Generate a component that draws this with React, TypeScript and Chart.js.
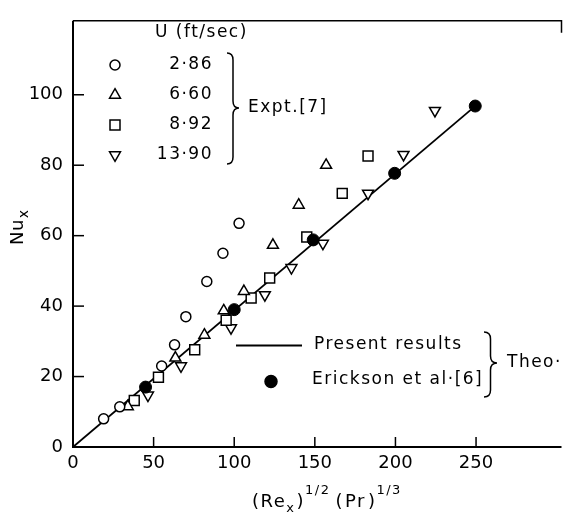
import React, { useEffect, useRef } from 'react';
import { Chart, registerables } from 'chart.js';

Chart.register(...registerables);

// ---- data ----
const xTicks = [0, 50, 100, 150, 200, 250];
const yTicks = [0, 20, 40, 60, 80, 100];
const xMax = 303;
const yMax = 121;

const presentX = [0, 250];
const presentY = [0, 97];

const ericksonX = [45, 100, 149, 199.5, 249.5];
const ericksonY = [17, 39, 58.8, 77.7, 96.8];

const u286X = [19, 29, 55, 63, 70, 83, 93, 103];
const u286Y = [8, 11.4, 23, 29, 37, 47, 55, 63.5];

const u660X = [34, 63.5, 81.5, 93.5, 106, 124, 140, 157];
const u660Y = [11.5, 25.3, 31.8, 38.7, 44.2, 57.3, 68.7, 80];

const u892X = [38, 53, 75.5, 95, 110.5, 122, 145, 167, 183];
const u892Y = [13.2, 19.8, 27.6, 36, 42.3, 48, 59.6, 72, 82.6];

const u1390X = [46.5, 67, 98, 119, 135.5, 155, 183, 205, 224.5];
const u1390Y = [14.7, 23, 33.8, 43.2, 50.9, 57.8, 72, 83, 95.5];

const speedLabels = ['2·86', '6·60', '8·92', '13·90'];
const speedHeader = 'U (ft/sec)';
const exptLabel = 'Expt.[7]';
const presentLabel = 'Present results';
const ericksonLabel = 'Erickson et al·[6]';
const theoLabel = 'Theo·';

const FAMILY = '"DejaVu Sans", sans-serif';

const pts = (xs: number[], ys: number[]) => xs.map((x, i) => ({ x, y: ys[i] }));

function drawMarker(ctx: CanvasRenderingContext2D, style: string, x: number, y: number) {
  ctx.save();
  ctx.lineWidth = 1.5;
  ctx.strokeStyle = '#000';
  ctx.fillStyle = '#fff';
  ctx.beginPath();
  if (style === 'circle') {
    ctx.arc(x, y, 5, 0, Math.PI * 2);
  } else if (style === 'filled') {
    ctx.fillStyle = '#000';
    ctx.arc(x, y, 6, 0, Math.PI * 2);
  } else if (style === 'tri') {
    const r = 6.3;
    ctx.moveTo(x, y - r);
    ctx.lineTo(x + r * 0.866, y + r / 2);
    ctx.lineTo(x - r * 0.866, y + r / 2);
    ctx.closePath();
  } else if (style === 'tridown') {
    const r = 6.3;
    ctx.moveTo(x, y + r);
    ctx.lineTo(x + r * 0.866, y - r / 2);
    ctx.lineTo(x - r * 0.866, y - r / 2);
    ctx.closePath();
  } else if (style === 'rect') {
    ctx.rect(x - 5, y - 5, 10, 10);
  }
  ctx.fill();
  ctx.stroke();
  ctx.restore();
}

function brace(ctx: CanvasRenderingContext2D, x: number, y1: number, y2: number, tipX: number, midY: number) {
  const bx = x + (tipX - x) * 0.5;
  ctx.beginPath();
  ctx.moveTo(x, y1);
  ctx.quadraticCurveTo(bx, y1, bx, y1 + 7);
  ctx.lineTo(bx, midY - 7);
  ctx.quadraticCurveTo(bx, midY, tipX, midY);
  ctx.quadraticCurveTo(bx, midY, bx, midY + 7);
  ctx.lineTo(bx, y2 - 7);
  ctx.quadraticCurveTo(bx, y2, x, y2);
  ctx.stroke();
}

const decor = {
  id: 'decor',
  afterDraw(chart: any) {
    const ctx: CanvasRenderingContext2D = chart.ctx;
    const { left, right, top, bottom } = chart.chartArea;
    const xs = chart.scales.x;
    const ys = chart.scales.y;
    ctx.save();
    ctx.strokeStyle = '#000';
    ctx.fillStyle = '#000';
    // frame
    ctx.lineWidth = 2;
    ctx.beginPath();
    ctx.moveTo(left, top);
    ctx.lineTo(left, bottom);
    ctx.lineTo(right, bottom);
    ctx.stroke();
    ctx.lineWidth = 1.5;
    ctx.beginPath();
    ctx.moveTo(left, top);
    ctx.lineTo(right, top);
    ctx.lineTo(right, top + 12);
    ctx.stroke();
    // inward ticks
    ctx.lineWidth = 1.5;
    xTicks.slice(1).forEach((v) => {
      const px = xs.getPixelForValue(v);
      ctx.beginPath();
      ctx.moveTo(px, bottom);
      ctx.lineTo(px, bottom - 10);
      ctx.stroke();
    });
    yTicks.slice(1).forEach((v) => {
      const py = ys.getPixelForValue(v);
      ctx.beginPath();
      ctx.moveTo(left, py);
      ctx.lineTo(left + 11, py);
      ctx.stroke();
    });

    // legend text
    ctx.font = `17px ${FAMILY}`;
    (ctx as any).letterSpacing = '1.5px';
    ctx.textBaseline = 'middle';
    ctx.textAlign = 'left';
    ctx.fillText(speedHeader, 155, 33);
    const styles = ['circle', 'tri', 'rect', 'tridown'];
    const rows = [65, 95, 125, 155];
    rows.forEach((ry, i) => {
      drawMarker(ctx, styles[i], 115, ry);
      ctx.textAlign = 'right';
      ctx.fillText(speedLabels[i], 213, ry);
    });
    ctx.textAlign = 'left';
    ctx.lineWidth = 1.5;
    brace(ctx, 227, 53, 164, 239, 108);
    ctx.fillText(exptLabel, 248, 108);

    // theory legend
    ctx.lineWidth = 1.8;
    ctx.beginPath();
    ctx.moveTo(236, 345.5);
    ctx.lineTo(302, 345.5);
    ctx.stroke();
    ctx.fillText(presentLabel, 314, 345);
    drawMarker(ctx, 'filled', 271, 381.5);
    ctx.fillText(ericksonLabel, 312, 380);
    ctx.lineWidth = 1.5;
    brace(ctx, 484, 332, 397, 497, 363);
    ctx.fillText(theoLabel, 507, 363);

    // axis titles
    ctx.textBaseline = 'alphabetic';
    (ctx as any).letterSpacing = '1.5px';
    let cx = 252;
    const big = `18px ${FAMILY}`;
    const small = `13px ${FAMILY}`;
    const seg = (t: string, font: string, base: number) => {
      ctx.font = font;
      ctx.fillText(t, cx, base);
      cx += ctx.measureText(t).width;
    };
    seg('(Re', big, 507);
    seg('x', `13px ${FAMILY}`, 512);
    cx += 1;
    seg(')', big, 507);
    seg('1/2', small, 494);
    cx += 5;
    seg('(', big, 507);
    cx += 1;
    seg('Pr', big, 507);
    cx += 2;
    seg(')', big, 507);
    seg('1/3', small, 494);

    // y title
    ctx.save();
    ctx.translate(23, 245);
    ctx.rotate(-Math.PI / 2);
    ctx.font = big;
    (ctx as any).letterSpacing = '0.5px';
    ctx.fillText('Nu', 0, 0);
    const w = ctx.measureText('Nu').width;
    ctx.font = `14px ${FAMILY}`;
    ctx.fillText('x', w + 1, 5);
    ctx.restore();

    ctx.restore();
  },
};

export default function App() {
  const ref = useRef<HTMLCanvasElement | null>(null);
  useEffect(() => {
    if (!ref.current) return;
    const chart = new Chart(ref.current, {
      type: 'scatter',
      data: {
        datasets: [
          {
            type: 'line',
            label: presentLabel,
            data: pts(presentX, presentY),
            borderColor: '#000',
            borderWidth: 1.8,
            pointRadius: 0,
            fill: false,
            order: 5,
          } as any,
          {
            label: ericksonLabel,
            data: pts(ericksonX, ericksonY),
            pointStyle: 'circle',
            pointRadius: 6,
            backgroundColor: '#000',
            borderColor: '#000',
            borderWidth: 1,
            order: 0,
          },
          {
            label: speedLabels[0],
            data: pts(u286X, u286Y),
            pointStyle: 'circle',
            pointRadius: 5,
            backgroundColor: '#fff',
            borderColor: '#000',
            borderWidth: 1.5,
            order: 1,
          },
          {
            label: speedLabels[1],
            data: pts(u660X, u660Y),
            pointStyle: 'triangle',
            pointRadius: 6.3,
            backgroundColor: '#fff',
            borderColor: '#000',
            borderWidth: 1.5,
            order: 1,
          },
          {
            label: speedLabels[2],
            data: pts(u892X, u892Y),
            pointStyle: 'rect',
            pointRadius: 7,
            backgroundColor: '#fff',
            borderColor: '#000',
            borderWidth: 1.5,
            order: 1,
          },
          {
            label: speedLabels[3],
            data: pts(u1390X, u1390Y),
            pointStyle: 'triangle',
            rotation: 180,
            pointRadius: 6.3,
            backgroundColor: '#fff',
            borderColor: '#000',
            borderWidth: 1.5,
            order: 1,
          },
        ],
      },
      options: {
        animation: false,
        responsive: false,
        devicePixelRatio: 1,
        layout: { padding: { top: 4, right: 1, left: 0, bottom: 0 } },
        plugins: { legend: { display: false }, tooltip: { enabled: false } },
        scales: {
          x: {
            type: 'linear',
            min: 0,
            max: xMax,
            grid: { display: false, drawTicks: false },
            border: { display: false },
            afterBuildTicks: (s: any) => {
              s.ticks = xTicks.map((v) => ({ value: v }));
            },
            afterFit: (s: any) => {
              s.height = 68;
            },
            ticks: {
              padding: 6,
              color: '#000',
              font: { size: 18, family: FAMILY },
              maxRotation: 0,
              autoSkip: false,
            },
          },
          y: {
            type: 'linear',
            min: 0,
            max: yMax,
            grid: { display: false, drawTicks: false },
            border: { display: false },
            afterBuildTicks: (s: any) => {
              s.ticks = yTicks.map((v) => ({ value: v }));
            },
            afterFit: (s: any) => {
              s.width = 73;
            },
            ticks: {
              padding: 10,
              color: '#000',
              font: { size: 18, family: FAMILY },
              autoSkip: false,
            },
          },
        },
      },
      plugins: [decor],
    });
    return () => chart.destroy();
  }, []);
  return (
    <div style={{ position: 'absolute', left: 0, top: 0, width: 570, height: 515, background: '#fff' }}>
      <canvas ref={ref} width={570} height={515} />
    </div>
  );
}
